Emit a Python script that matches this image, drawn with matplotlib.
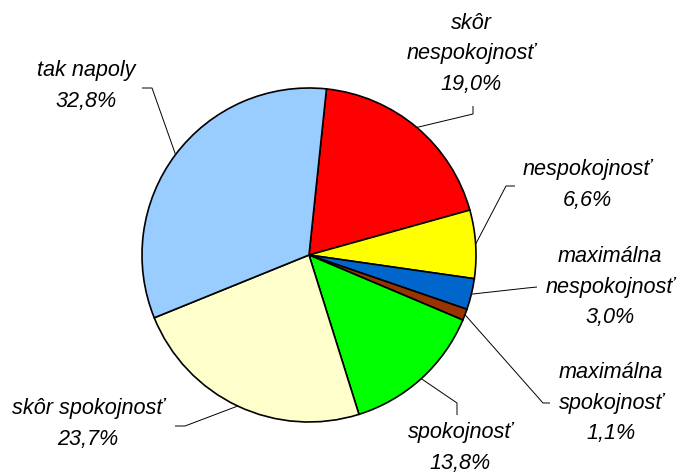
import numpy as np
import matplotlib
matplotlib.use("Agg")
import matplotlib.pyplot as plt

# Data (clockwise from top)
categories = ["skôr\nnespokojnosť", "nespokojnosť", "maximálna\nnespokojnosť",
              "maximálna\nspokojnosť", "spokojnosť", "skôr spokojnosť", "tak napoly"]
values = [19.0, 6.6, 3.0, 1.1, 13.8, 23.7, 32.8]
colors = ["#FF0000", "#FFFF00", "#0066CC", "#993300", "#00FF00", "#FFFFCC", "#99CCFF"]

W, H = 678, 472
fig = plt.figure(figsize=(W / 100, H / 100), dpi=100)
ax = fig.add_axes([0, 0, 1, 1])

cx, cy, r = 309, H - 255, 167
wedges, _ = ax.pie(values, colors=colors, startangle=84, counterclock=False,
                   center=(cx, cy), radius=r, frame=True,
                   wedgeprops=dict(edgecolor="black", linewidth=1.2))
ax.set_xlim(0, W)
ax.set_ylim(0, H)
ax.set_aspect("equal")
ax.axis("off")

# layout: text centre (px from top-left) and leader path (elbow points)
text_pos = [(471, 54), (587, 185), (610, 287), (611, 403), (460, 448), (88, 424), (86, 86)]
leader = [
    [(473, 114), (473, 106)],
    [(506, 186), (515, 186)],
    [(527, 288), (537, 287)],
    [(543, 403), (550, 403)],
    [(457, 403), (457, 415)],
    [(185, 426), (175, 426)],
    [(152, 88), (142, 88)],
]

for w, cat, val, tp, pts in zip(wedges, categories, values, text_pos, leader):
    mid = np.deg2rad((w.theta1 + w.theta2) / 2)
    ex, ey = cx + r * np.cos(mid), cy + r * np.sin(mid)
    xs = [ex] + [p[0] for p in pts]
    ys = [ey] + [H - p[1] for p in pts]
    ax.plot(xs, ys, color="black", linewidth=0.7, solid_capstyle="butt")
    label = f"{cat}\n{val:.1f}%".replace(".", ",")
    ax.text(tp[0], H - tp[1], label, ha="center", va="center", multialignment="center",
            fontsize=15.6, style="italic", family="Liberation Sans", linespacing=1.58,
            color="black")

fig.savefig("out.png", dpi=100)
